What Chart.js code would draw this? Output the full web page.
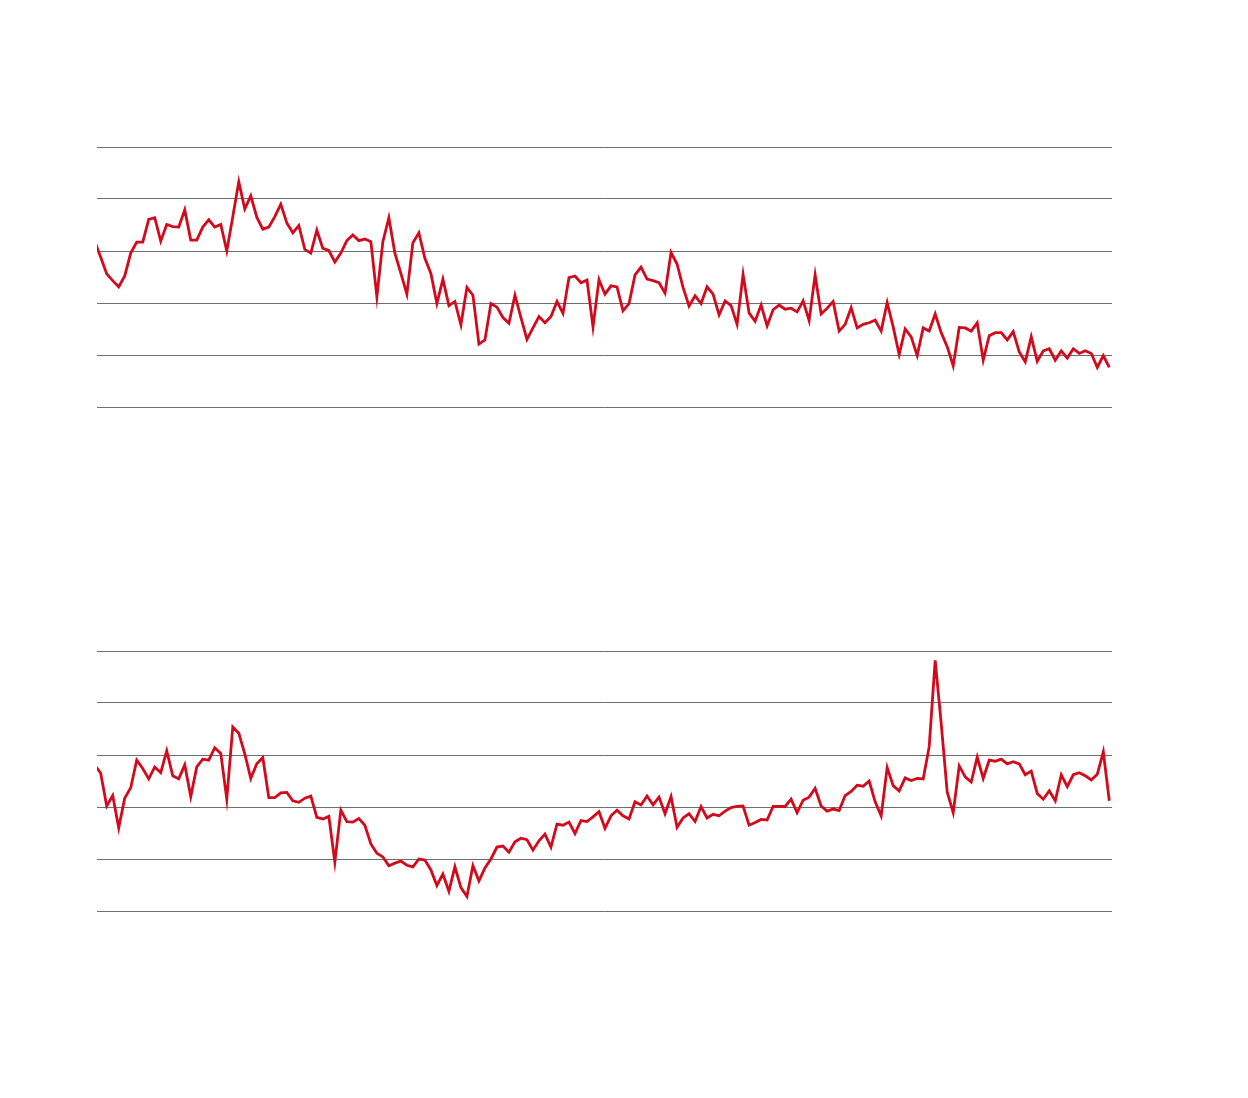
<!DOCTYPE html>
<html>
<head>
<meta charset="utf-8">
<script src="https://cdn.jsdelivr.net/npm/chart.js@4"></script>
<style>
  body { margin: 0; background: #ffffff; }
  .panel { position: absolute; left: 92px; width: 1025px; height: 270px; }
  #panel-top { top: 142px; }
  #panel-bottom { top: 646px; }
</style>
</head>
<body>
<div class="panel" id="panel-top"><canvas id="chart-top" width="1025" height="270"></canvas></div>
<div class="panel" id="panel-bottom"><canvas id="chart-bottom" width="1025" height="270"></canvas></div>
<script>
// Series (one value per period, 170 periods)
const topSeries = [
  31.9, 28.8, 25.6, 24.3, 23.1, 25.2, 29.6, 31.7, 31.7, 36.1,
  36.4, 31.9, 35.1, 34.7, 34.6, 37.9, 32.1, 32.1, 34.6, 36.0,
  34.6, 35.1, 30.0, 36.6, 43.3, 38.1, 40.6, 36.5, 34.2, 34.6,
  36.6, 39.0, 35.4, 33.5, 34.9, 30.3, 29.6, 34.0, 30.5, 30.1,
  27.9, 29.6, 32.0, 33.1, 32.0, 32.3, 31.8, 21.2, 31.8, 36.4,
  29.6, 25.7, 21.7, 31.6, 33.5, 28.6, 25.7, 19.9, 24.6, 19.5,
  20.3, 15.8, 23.0, 21.5, 12.1, 12.9, 19.9, 19.2, 17.2, 16.1,
  21.5, 17.2, 13.0, 15.2, 17.4, 16.2, 17.4, 20.3, 18.0, 24.9,
  25.2, 23.9, 24.4, 15.4, 24.5, 21.7, 23.3, 23.1, 18.5, 19.9,
  25.4, 26.9, 24.6, 24.3, 23.9, 21.9, 29.7, 27.5, 23.0, 19.4,
  21.4, 19.9, 23.1, 21.7, 17.7, 20.4, 19.5, 15.9, 25.5, 18.1,
  16.5, 19.6, 15.6, 18.7, 19.6, 18.8, 19.0, 18.3, 20.4, 16.6,
  25.4, 17.9, 19.0, 20.3, 14.6, 15.9, 19.1, 15.2, 15.9, 16.2,
  16.7, 14.6, 20.1, 15.4, 10.1, 15.0, 13.5, 9.9, 15.2, 14.6,
  17.9, 14.3, 11.6, 7.9, 15.3, 15.2, 14.6, 16.2, 9.0, 13.7,
  14.3, 14.3, 12.9, 14.5, 10.6, 8.7, 13.5, 8.8, 10.8, 11.2,
  9.0, 10.8, 9.4, 11.2, 10.3, 10.8, 10.3, 7.6, 9.9, 7.6
];

const bottomSeries = [
  28.1, 26.5, 20.2, 22.2, 16.0, 21.7, 23.7, 29.0, 27.4, 25.4,
  27.7, 26.6, 30.8, 26.0, 25.4, 28.1, 22.0, 27.7, 29.2, 29.0,
  31.4, 30.3, 21.5, 35.4, 34.2, 30.2, 25.5, 28.3, 29.5, 21.8,
  21.8, 22.7, 22.8, 21.2, 20.9, 21.7, 22.1, 18.0, 17.7, 18.2,
  9.4, 19.4, 17.2, 17.1, 17.8, 16.5, 12.9, 11.1, 10.4, 8.7,
  9.2, 9.6, 8.8, 8.5, 10.0, 9.8, 7.9, 4.9, 7.1, 3.8,
  8.5, 4.5, 2.8, 8.7, 5.8, 8.3, 10.0, 12.3, 12.5, 11.3,
  13.3, 14.0, 13.7, 11.7, 13.5, 14.8, 12.3, 16.7, 16.5, 17.1,
  14.9, 17.4, 17.2, 18.1, 19.1, 15.9, 18.3, 19.4, 18.3, 17.7,
  21.0, 20.4, 22.1, 20.4, 21.9, 18.7, 22.0, 16.1, 17.9, 18.7,
  17.2, 20.1, 17.9, 18.6, 18.3, 19.2, 19.9, 20.1, 20.2, 16.5,
  17.0, 17.6, 17.5, 20.1, 20.1, 20.1, 21.5, 18.9, 21.3, 21.9,
  23.6, 20.2, 19.2, 19.6, 19.3, 22.2, 23.0, 24.2, 24.0, 25.0,
  21.0, 18.3, 27.6, 24.1, 23.1, 25.6, 25.1, 25.5, 25.4, 31.6,
  48.2, 36.1, 22.9, 18.9, 27.9, 25.8, 24.8, 29.6, 25.5, 29.0,
  28.8, 29.2, 28.3, 28.7, 28.3, 26.2, 26.9, 22.6, 21.5, 23.1,
  21.2, 26.2, 23.9, 26.2, 26.6, 26.0, 25.2, 26.3, 30.6, 21.2
];

// Gridline values (no labels are shown)
const yTicks = [0, 10, 20, 30, 40, 50];

const LINE_RED = '#d20a1c';
const GRID_GREY = '#6e6e6e';

function toPoints(series) {
    return series.map((v, i) => ({ x: i, y: v }));
}

function buildChart(canvasId, series) {
    const ctx = document.getElementById(canvasId).getContext('2d');
    return new Chart(ctx, {
        type: 'line',
        data: {
            datasets: [{
                data: toPoints(series),
                borderColor: LINE_RED,
                borderWidth: 2.8,
                pointRadius: 0,
                tension: 0,
                fill: false
            }]
        },
        options: {
            responsive: false,
            animation: false,
            devicePixelRatio: 1,
            layout: { padding: 5 },
            plugins: {
                legend: { display: false },
                tooltip: { enabled: false }
            },
            scales: {
                x: {
                    type: 'linear',
                    display: false,
                    min: 0.383,
                    max: 169.45
                },
                y: {
                    min: yTicks[0],
                    max: yTicks[yTicks.length - 1],
                    afterBuildTicks: (axis) => {
                        axis.ticks = yTicks.map(v => ({ value: v }));
                    },
                    border: { display: false },
                    ticks: { display: false },
                    grid: {
                        color: GRID_GREY,
                        lineWidth: 1,
                        drawTicks: false
                    }
                }
            }
        }
    });
}

buildChart('chart-top', topSeries);
buildChart('chart-bottom', bottomSeries);
</script>
</body>
</html>
